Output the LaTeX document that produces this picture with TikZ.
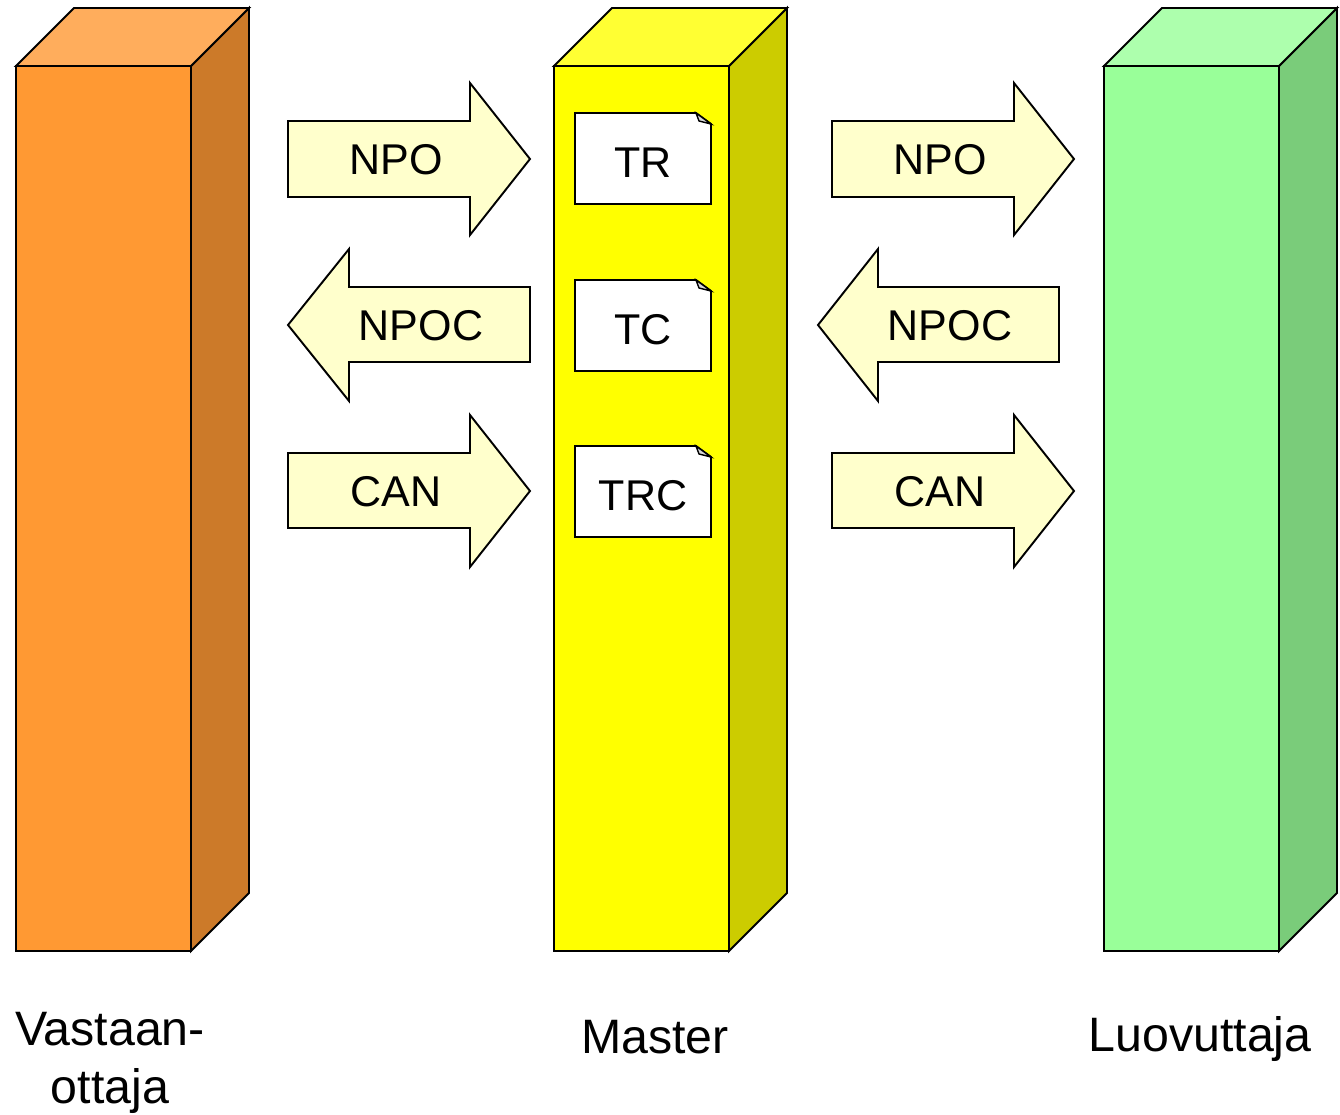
\documentclass[tikz,border=0pt]{standalone}
\usepackage{fontspec}
\setmainfont{Liberation Sans}
\definecolor{frontO}{HTML}{FF9933}
\definecolor{topO}{HTML}{FFAD5C}
\definecolor{sideO}{HTML}{CC7A29}
\definecolor{frontY}{HTML}{FFFF00}
\definecolor{topY}{HTML}{FFFF33}
\definecolor{sideY}{HTML}{CCCC00}
\definecolor{frontG}{HTML}{99FF99}
\definecolor{topG}{HTML}{ADFFAD}
\definecolor{sideG}{HTML}{7ACC7A}
\definecolor{arrowfill}{HTML}{FFFFCC}
\tikzset{
  edge/.style={line width=1.1pt,line join=miter},
  blockarrow/.style={edge,fill=arrowfill},
  arrowtext/.style={font=\fontsize{24.5}{29}\selectfont},
  doctext/.style={font=\fontsize{24.5}{29}\selectfont},
  bartext/.style={font=\fontsize{27.5}{33}\selectfont,align=center}
}

\begin{document}
\begin{tikzpicture}[x=0.02cm,y=-0.02cm]
\useasboundingbox (0,0) rectangle (1340,1115);

%bars
\foreach \x/\c in {16/O,554/Y,1104/G}{
  \draw[edge,fill=side\c] (\x+175,66) -- (\x+233,8) -- (\x+233,893) -- (\x+175,951) -- cycle;
  \draw[edge,fill=top\c] (\x,66) -- (\x+58,8) -- (\x+233,8) -- (\x+175,66) -- cycle;
  \draw[edge,fill=front\c] (\x,66) rectangle (\x+175,951);
}

%left arrows
\draw[blockarrow] (288,121) -- (470,121) -- (470,83) -- (530,159) -- (470,235) -- (470,197) -- (288,197) -- cycle;
\node[arrowtext] (npo1) at (396,160) {NPO};
\draw[blockarrow] (530,287) -- (349,287) -- (349,249) -- (288,325) -- (349,401) -- (349,362) -- (530,362) -- cycle;
\node[arrowtext] (npoc1) at (421,326) {NPOC};
\draw[blockarrow] (288,453) -- (470,453) -- (470,415) -- (530,491) -- (470,567) -- (470,528) -- (288,528) -- cycle;
\node[arrowtext] (can1) at (396,492) {CAN};

%right arrows
\draw[blockarrow] (832,121) -- (1014,121) -- (1014,83) -- (1074,159) -- (1014,235) -- (1014,197) -- (832,197) -- cycle;
\node[arrowtext] (npo2) at (940,160) {NPO};
\draw[blockarrow] (1059,287) -- (878,287) -- (878,249) -- (818,325) -- (878,401) -- (878,362) -- (1059,362) -- cycle;
\node[arrowtext] (npoc2) at (950,326) {NPOC};
\draw[blockarrow] (832,453) -- (1014,453) -- (1014,415) -- (1074,491) -- (1014,567) -- (1014,528) -- (832,528) -- cycle;
\node[arrowtext] (can2) at (940,492) {CAN};

%documents in master
\foreach \y/\t/\n in {113/TR/tr,280/TC/tc,446/TRC/trc}{
  \draw[edge,fill=white] (575,\y) -- (696,\y) -- (711,\y+11) -- (711,\y+91) -- (575,\y+91) -- cycle;
  \draw[line width=0.8pt,fill=gray!30] (696,\y) -- (711,\y+11) -- (699,\y+8) -- cycle;
  \node[doctext] (\n) at (643,\y+50) {\t};
}

%labels
\node[bartext] (vastaan) at (110,1063) {Vastaan-\\ottaja};
\node[bartext] (master) at (655,1037) {Master};
\node[bartext] (luovuttaja) at (1200,1039) {Luovuttaja};

\end{tikzpicture}
\end{document}
